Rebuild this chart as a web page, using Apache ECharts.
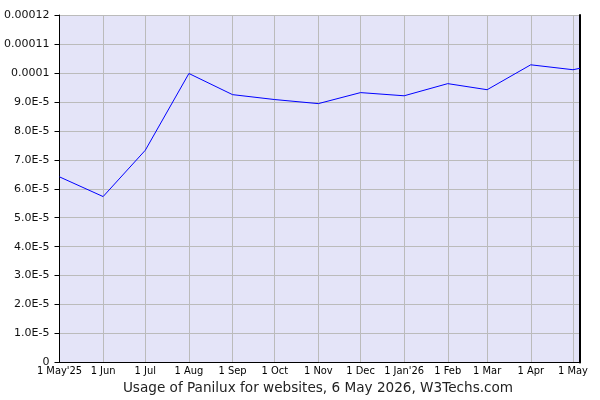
<!DOCTYPE html>
<html>
<head>
<meta charset="utf-8">
<script src="https://cdn.jsdelivr.net/npm/echarts@6/dist/echarts.min.js"></script>
<style>
  html, body { margin: 0; padding: 0; background: #fff; }
  #container { width: 600px; height: 400px; }
</style>
</head>
<body>
<div id="container"></div>
<script>
    // dates of the samples (last one is the day of the report)
    var dates = ['2025-05-01', '2025-06-01', '2025-07-01', '2025-08-01', '2025-09-01', '2025-10-01',
                 '2025-11-01', '2025-12-01', '2026-01-01', '2026-02-01', '2026-03-01', '2026-04-01',
                 '2026-05-01', '2026-05-06'];
    var usage = [0.0000641, 0.0000573, 0.0000733, 0.0000998, 0.0000925, 0.0000908,
                 0.0000894, 0.0000932, 0.0000921, 0.0000963, 0.0000942, 0.0001028,
                 0.0001011, 0.0001016];
    var yLabels = ['0', '1.0E-5', '2.0E-5', '3.0E-5', '4.0E-5', '5.0E-5', '6.0E-5',
                   '7.0E-5', '8.0E-5', '9.0E-5', '0.0001', '0.00011', '0.00012'];
    var monthNames = ['Jan', 'Feb', 'Mar', 'Apr', 'May', 'Jun', 'Jul', 'Aug', 'Sep', 'Oct', 'Nov', 'Dec'];
    var title = 'Usage of Panilux for websites, 6 May 2026, W3Techs.com';

    function toTime(s)
    {
        var p = s.split('-');
        return new Date(+p[0], +p[1] - 1, +p[2]).getTime();
    }

    var points = [];
    for (var i = 0; i < dates.length; i++) {
        points.push([toTime(dates[i]), usage[i]]);
    }
    var xMin = toTime(dates[0]);
    var xMax = toTime(dates[dates.length - 1]);

    function xLabel(v)
    {
        var d = new Date(v);
        var s = d.getDate() + ' ' + monthNames[d.getMonth()];
        // year is shown on the first label and on January
        if (v === xMin || d.getMonth() === 0) {
            s += "'" + String(d.getFullYear()).slice(2);
        }
        return s;
    }

    var myChart = echarts.init(document.getElementById('container'));
    myChart.setOption({
        animation: false,
        graphic: [{
            type: 'text',
            x: 318,
            y: 388,
            style: {
                text: title,
                align: 'center',
                verticalAlign: 'middle',
                fontFamily: 'DejaVu Sans',
                fontSize: 13.6,
                fill: '#222'
            }
        }],
        grid: {
            left: 59.5, right: 20, top: 15, bottom: 37.5,
            show: true, backgroundColor: '#e4e4f8', borderWidth: 0
        },
        xAxis: {
            type: 'time',
            min: xMin,
            max: xMax,
            splitNumber: 12,
            axisLine: { show: true, lineStyle: { color: '#000', width: 1 } },
            axisTick: { show: false },
            splitLine: { show: true, lineStyle: { color: '#bbb', width: 1 } },
            axisLabel: {
                formatter: xLabel,
                fontFamily: 'DejaVu Sans Condensed',
                fontSize: 11,
                color: '#000',
                margin: 3,
                showMaxLabel: false
            }
        },
        yAxis: [{
            type: 'value',
            min: 0,
            max: 0.00012,
            interval: 0.00001,
            axisLine: { show: true, lineStyle: { color: '#000', width: 1 } },
            axisTick: { show: true, length: 5, lineStyle: { color: '#000' } },
            splitLine: { show: true, lineStyle: { color: '#bbb', width: 1 } },
            axisLabel: {
                formatter: function (v) { return yLabels[Math.round(v / 0.00001)]; },
                fontFamily: 'DejaVu Sans',
                fontSize: 11,
                color: '#111',
                margin: 10
            }
        }, {
            // right border of the plot
            type: 'value',
            position: 'right',
            min: 0,
            max: 0.00012,
            interval: 0.00001,
            axisLine: { show: true, lineStyle: { color: '#000', width: 2 } },
            axisTick: { show: false },
            axisLabel: { show: false },
            splitLine: { show: false }
        }],
        series: [{
            type: 'line',
            data: points,
            showSymbol: false,
            lineStyle: { color: '#0000ff', width: 1 },
            z: 3
        }]
    });
</script>
</body>
</html>
